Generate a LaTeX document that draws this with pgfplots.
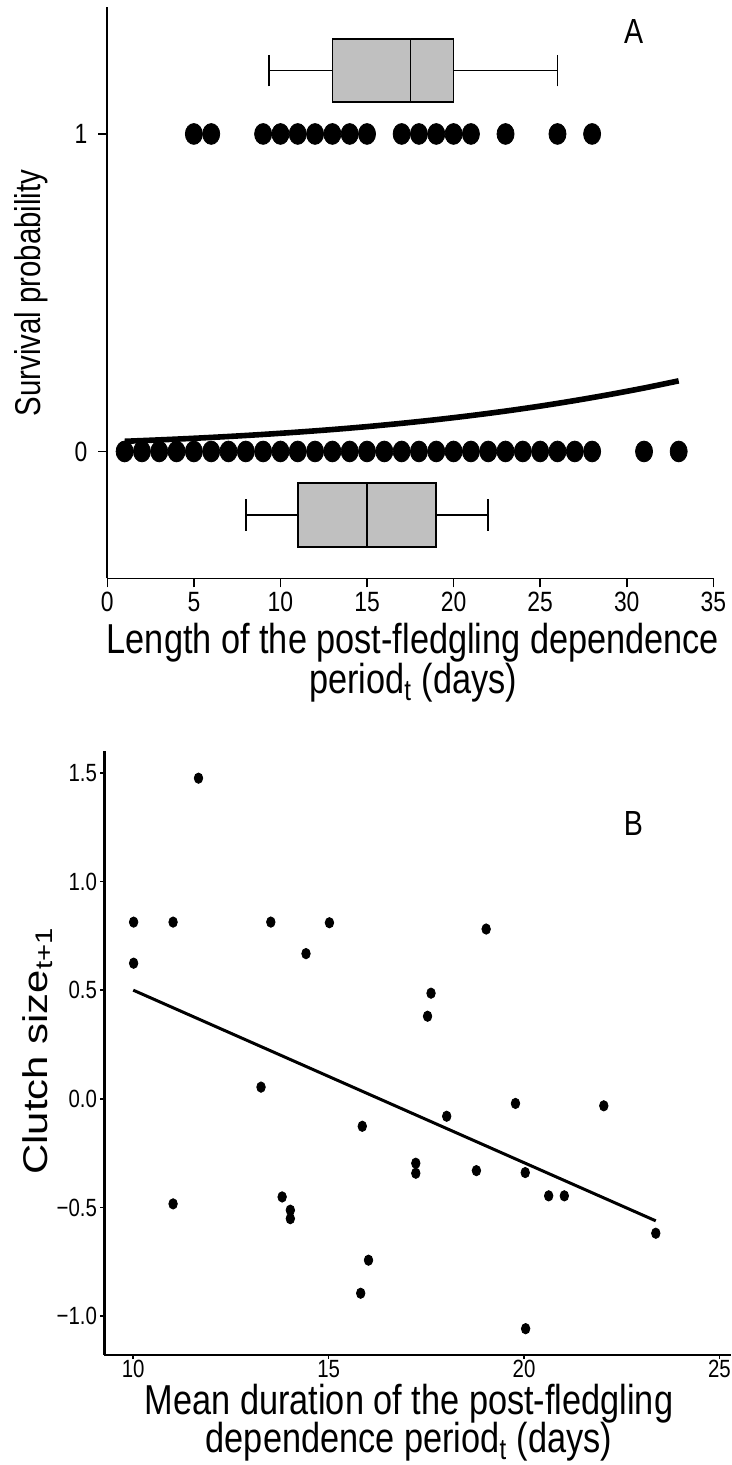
\documentclass[border=0pt]{standalone}
\usepackage{fontspec}
\setmainfont{Liberation Sans}[FakeStretch=0.82]
\newfontfamily\plainsans{Liberation Sans}
\usepackage{pgfplots}
\pgfplotsset{compat=1.18}
\usepgfplotslibrary{statistics}
\definecolor{boxgray}{RGB}{192,192,192}

\begin{document}
\begin{tikzpicture}[x=1bp,y=1bp]
% panel A
\begin{axis}[
  at={(53.65bp,443.25bp)}, anchor=south west,
  scale only axis, width=303bp, height=285.75bp,
  xmin=0, xmax=35, ymin=-0.4, ymax=1.4,
  axis lines=left, axis line style={-, line width=0.9bp},
  xtick={0,5,...,35}, ytick={0,1},
  tick align=outside, major tick length=4.5bp,
  tick style={line width=0.8bp, black},
  ticklabel style={font=\fontsize{14}{16}\selectfont},
  xticklabel style={inner sep=1bp, yshift=-1bp},
  yticklabel style={xshift=-2bp},
  /pgf/number format/assume math mode=true,
  clip=false,
]
\addplot[boxplot prepared={lower whisker=9.35, lower quartile=13, median=17.5,
    upper quartile=20, upper whisker=26, draw position=1.2,
    box extend=0.2, whisker extend=0.1, draw direction=x},
  draw=black, fill=boxgray, line width=0.8bp] coordinates {};
\addplot[boxplot prepared={lower whisker=8, lower quartile=11, median=15,
    upper quartile=19, upper whisker=22, draw position=-0.2,
    box extend=0.2, whisker extend=0.1, draw direction=x},
  draw=black, fill=boxgray, line width=0.8bp] coordinates {};
% survived
\addplot[only marks, mark=*, mark size=5.2bp,
  mark options={xscale=0.82, draw=black, fill=black}] coordinates {
  (5,1)(6,1)(9,1)(10,1)(11,1)(12,1)(13,1)(14,1)(15,1)
  (17,1)(18,1)(19,1)(20,1)(21,1)(23,1)(26,1)(28,1)
};
% did not survive
\addplot[only marks, mark=*, mark size=5.2bp,
  mark options={xscale=0.82, draw=black, fill=black}] coordinates {
  (1,0)(2,0)(3,0)(4,0)(5,0)(6,0)(7,0)(8,0)(9,0)(10,0)
  (11,0)(12,0)(13,0)(14,0)(15,0)(16,0)(17,0)(18,0)(19,0)(20,0)
  (21,0)(22,0)(23,0)(24,0)(25,0)(26,0)(27,0)(28,0)(31,0)(33,0)
};
% fitted curve
\addplot[black, line width=2.8bp, smooth] coordinates {
  (1,0.0320)(3,0.0365)(5,0.0415)(7,0.0472)(9,0.0537)(11,0.0610)
  (13,0.0691)(15,0.0783)(17,0.0887)(19,0.1002)(21,0.1130)(23,0.1272)
  (25,0.1429)(27,0.1603)(29,0.1793)(31,0.1999)(33,0.2224)
};
\node[font=\fontsize{17.5}{20}\selectfont] at (axis cs:30.4,1.323) {A};
\end{axis}

% panel B
\begin{axis}[
  at={(52.15bp,55bp)}, anchor=south west,
  scale only axis, width=313.45bp, height=302bp,
  xmin=9.26, xmax=25.3, ymin=-1.178, ymax=1.60,
  axis lines=left, axis line style={-, line width=1.2bp},
  xtick={10,15,20,25},
  ytick={-1,-0.5,0,0.5,1,1.5},
  yticklabels={−1.0,−0.5,0.0,0.5,1.0,1.5},
  tick align=outside, major tick length=2bp,
  tick style={line width=0.8bp, black},
  ticklabel style={font=\fontsize{12.5}{14}\selectfont},
  xticklabel style={inner sep=0.5bp, yshift=0bp},
  yticklabel style={inner sep=1.5bp},
  /pgf/number format/assume math mode=true,
  clip=false,
]
\addplot[only marks, mark=*, mark size=2.6bp,
  mark options={xscale=0.82, draw=black, fill=black}] coordinates {
  (10.01,0.813)(11.02,0.813)(10.01,0.624)(11.67,1.475)(11.02,-0.483)
  (13.52,0.813)(15.02,0.810)(14.42,0.668)(19.03,0.781)(17.62,0.486)
  (17.53,0.380)(13.27,0.054)(15.86,-0.126)(18.02,-0.080)(19.78,-0.021)
  (22.04,-0.032)(17.23,-0.296)(17.23,-0.342)(18.78,-0.330)(20.03,-0.339)
  (20.63,-0.446)(21.03,-0.446)(13.81,-0.451)(14.02,-0.512)(14.02,-0.551)
  (23.37,-0.618)(16.02,-0.742)(15.82,-0.894)(20.04,-1.057)
};
\addplot[black, line width=1.5bp] coordinates {(10,0.5)(23.37,-0.561)};
\node[font=\fontsize{17.5}{20}\selectfont] at (axis cs:22.8,1.265) {B};
\end{axis}

% axis titles
\node[anchor=base, font=\fontsize{21}{24}\selectfont] at (206.5,405.5)
  {Length of the post-fledgling dependence};
\node[anchor=base, font=\fontsize{21}{24}\selectfont] at (206.5,385.5)
  {period\textsubscript{t} (days)};
\node[rotate=90, font=\fontsize{18}{20}\selectfont] at (15.5,586)
  {Survival probability};
\node[anchor=base, font=\fontsize{21}{24}\selectfont] at (204.5,25)
  {Mean duration of the post-fledgling};
\node[anchor=base, font=\fontsize{21}{24}\selectfont] at (204.5,6)
  {dependence period\textsubscript{t} (days)};
\node[rotate=90, font=\plainsans\fontsize{21}{24}\selectfont] at (19,207)
  {\scalebox{1}[0.82]{Clutch size\textsubscript{t+1}}};

\pgfresetboundingbox
\path[use as bounding box] (0,0) rectangle (365.5,732.5);
\end{tikzpicture}
\end{document}
